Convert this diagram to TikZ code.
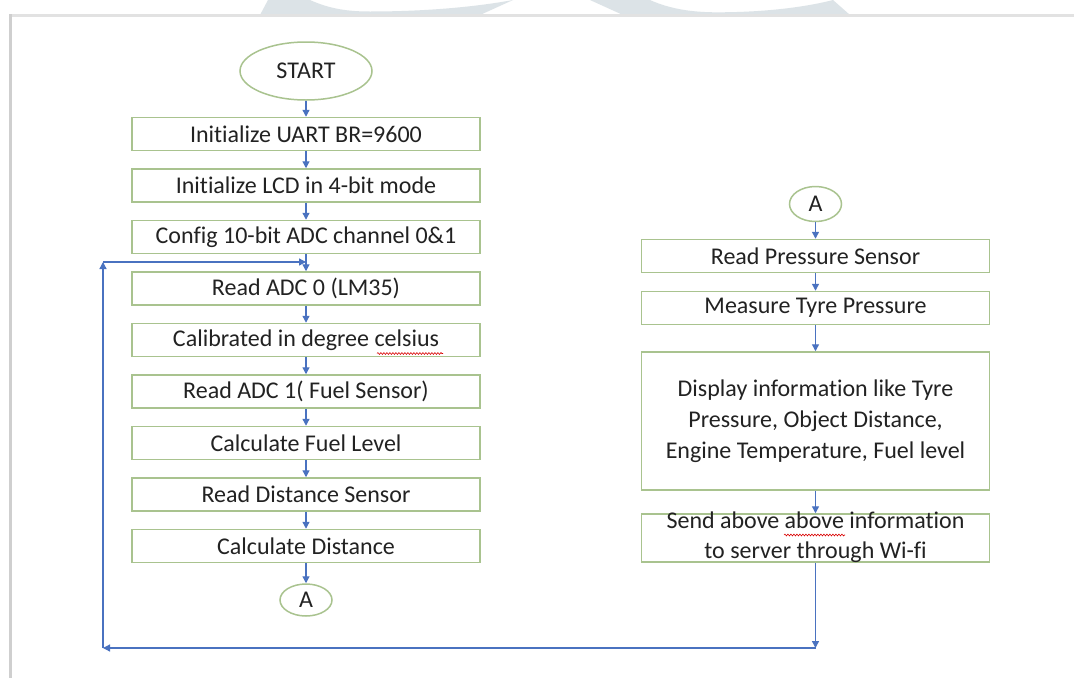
\documentclass[tikz,border=0pt]{standalone}
\usepackage{fontspec}
\setmainfont[Ligatures=NoCommon]{Carlito}
\usetikzlibrary{arrows.meta,shapes.geometric,decorations.pathmorphing}

\definecolor{boxline}{HTML}{A9C38F}
\definecolor{flowblue}{HTML}{4A72C0}
\definecolor{inktext}{HTML}{222222}
\definecolor{markgray}{HTML}{DCE3E7}
\definecolor{framegray}{HTML}{CFCFCF}

\tikzset{
  stepbox/.style={draw=boxline, line width=1.5pt, rectangle, inner sep=0pt,
    minimum width=348pt, minimum height=33pt, text=inktext,
    font=\fontsize{24}{30}\selectfont},
  terminal/.style={draw=boxline, line width=1.5pt, ellipse, inner sep=0pt,
    text=inktext, font=\fontsize{24}{30}\selectfont},
  flow/.style={draw=flowblue, line width=1.3pt,
    -{Triangle[length=7pt,width=7pt]}},
  spellmark/.style={draw=red!85!black, line width=0.6pt,
    decorate, decoration={snake, amplitude=0.9pt, segment length=3pt}},
}

\begin{document}
\begin{tikzpicture}[x=1pt,y=-1pt]
\useasboundingbox (0,0) rectangle (1074,678);
\fill[white] (0,0) rectangle (1074,678);

% faint page watermark above the frame
\fill[markgray] (260,15) -- (268,0) -- (310,0)
  .. controls (330,9) and (348,11.5) .. (370,11.5)
  .. controls (425,11.5) and (475,7) .. (513,0) -- (480,15) -- cycle;
\fill[markgray] (623,15) -- (590,0) -- (650,0)
  .. controls (670,9) and (692,12.3) .. (717,12.3)
  .. controls (770,12.3) and (810,6) .. (833,0) -- (850,15) -- cycle;

% page frame
\draw[framegray!60, line width=3pt] (10,15) -- (1074,15);
\draw[framegray, line width=3pt] (10.5,14) -- (10.5,678);

% left column
\node[terminal, minimum width=132pt, minimum height=58pt] (start) at (306,71) {START};
\node[stepbox] (uart) at (306,134) {Initialize UART BR=9600};
\node[stepbox] (lcd)  at (306,185.5) {Initialize LCD in 4-bit mode};
\node[stepbox] (adc)  at (306,237) {Config 10-bit ADC channel 0\&1};
\node[stepbox] (lm35) at (306,288.5) {Read ADC 0 (LM35)};
\node[stepbox] (cal)  at (306,340) {Calibrated in degree celsius};
\node[stepbox] (fuel) at (306,391.5) {Read ADC 1( Fuel Sensor)};
\node[stepbox] (flev) at (306,443) {Calculate Fuel Level};
\node[stepbox] (dist) at (306,494.5) {Read Distance Sensor};
\node[stepbox] (cdis) at (306,546) {Calculate Distance};
\node[terminal, minimum width=52pt, minimum height=32pt] (aout) at (306,600) {A};

% right column
\node[terminal, minimum width=52pt, minimum height=35pt] (ain) at (815.5,204) {A};
\node[stepbox] (pres) at (815.5,256) {Read Pressure Sensor};
\node[stepbox] (tyre) at (815.5,308) {Measure Tyre Pressure};
\node[stepbox, minimum height=138pt, align=center,
      font=\fontsize{24}{31}\selectfont] (disp) at (815.5,421)
  {Display information like Tyre\\Pressure, Object Distance,\\Engine Temperature, Fuel level};
\node[stepbox, minimum height=48pt] (send) at (815.5,538) {};
\node[align=center, inner sep=0pt, text=inktext,
      font=\fontsize{24}{30}\selectfont] (sendtxt) at ([yshift=1pt]send.center)
  {Send above above information\\to server through Wi-fi};

% spelling marks under flagged words
\draw[spellmark] (377,353.5) -- (443,353.5);
\draw[spellmark] (784,535) -- (845,535);

% main flow
\draw[flow] (start) -- (uart);
\draw[flow] (uart) -- (lcd);
\draw[flow] (lcd) -- (adc);
\draw[flow] (adc) -- (lm35);
\draw[flow] (lm35) -- (cal);
\draw[flow] (cal) -- (fuel);
\draw[flow] (fuel) -- (flev);
\draw[flow] (flev) -- (dist);
\draw[flow] (dist) -- (cdis);
\draw[flow] (cdis) -- (aout);

\draw[flow] (ain) -- (pres);
\draw[flow] (pres) -- (tyre);
\draw[flow] (tyre) -- (disp);
\draw[flow] (disp) -- (send);

% loop back to the ADC reading
\coordinate (down) at (815.5,648);
\coordinate (corner) at (103,648);
\coordinate (up) at (103,262);
\coordinate (rejoin) at (306,262);
\draw[flow] (send.south) -- (down);
\draw[flow] (down) -- (corner);
\draw[flow] (corner) -- (up);
\draw[flow] (up) -- (rejoin);
\end{tikzpicture}
\end{document}
